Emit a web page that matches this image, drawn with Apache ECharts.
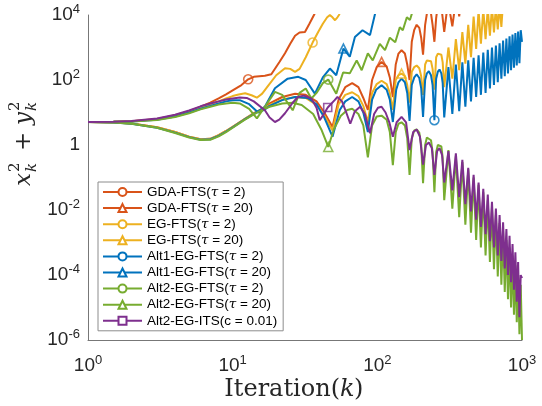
<!DOCTYPE html>
<html><head><meta charset="utf-8">
<script src="https://cdn.jsdelivr.net/npm/echarts@6/dist/echarts.min.js"></script>
<style>html,body{margin:0;padding:0;background:#fff}#c{width:542px;height:406px}</style>
</head><body><div id="c"></div>
<script>
// ---- data: [iteration k, x_k^2 + y_k^2] ----
const seriesNames = ['GDA-FTS(τ = 2)','GDA-FTS(τ = 20)','EG-FTS(τ = 2)','EG-FTS(τ = 20)','Alt1-EG-FTS(τ = 2)','Alt1-EG-FTS(τ = 20)','Alt2-EG-FTS(τ = 2)','Alt2-EG-FTS(τ = 20)','Alt2-EG-ITS(c = 0.01)'];

const gdaFts2 = [[1,5.1],[1.5,5.2],[2,5.4],[3,6.3],[4,8.3],[5,11],[6,15],[7,20],[8,27],[9,36],[10,48],[11.5,70],[12.8,105],[14,125],[16.7,135],[18.5,150],[21,350],[23,665],[25,1300],[27,2300],[29,2900],[31.6,3000],[34,5500],[37,11300],[40,20000]];

const gdaFts20 = [[1,5.1],[1.5,4.9],[2,4.6],[3,3.5],[4,2.5],[5,1.8],[6,1.5],[7,1.55],[8,2],[9,2.7],[10,3.6],[12,6.2],[14,9.5],[16,13],[18,19],[22,30],[27,38],[32,35],[38,22],[43,10],[49,3.6],[54,25],[60,60],[67,80],[74,60],[80,28],[86,12],[92,100],[99,250],[107,360],[116,260],[122,120],[128,30],[134,300],[140,650],[147,820],[155,650],[161,300],[167,100],[173,1500],[180,3500],[187,5000],[195,4000],[201,2000],[207,600],[214,5000],[220,11000],[227,14000],[235,11000],[241,5000],[248,1500],[255,8000],[262,20000],[270,30000],[280,12000],[290,3000],[300,10000],[310,30000],[320,10000],[330,4500],[340,12000],[350,30000],[360,20000],[368,9000],[380,30000]];

const egFts2 = [[1,5.1],[1.5,5.2],[2,5.4],[3,6.2],[4,8],[5,10.5],[6,14],[7,18],[8,22],[9,27],[10,32],[11,36],[12.2,39],[13.5,34],[14.7,28.5],[16,38],[17.3,60],[20,140],[23,230],[25,220],[27,177],[29,220],[32,500],[35.7,1420],[39,3000],[42,5400],[45,8500],[47,9900],[49,8500],[51,6900],[53,8500],[54.3,10000],[58,20000]];

const egFts20 = [[1,5.1],[1.5,4.9],[2,4.6],[3,3.5],[4,2.5],[5,1.8],[6,1.5],[7,1.55],[8,2],[9,2.7],[10,3.6],[12,6.1],[14,9.3],[16,12.5],[18,17],[22,25],[27,30],[32,28],[38,17],[43,8],[49,2.8],[54,18],[60,35],[67,42],[74,32],[80,16],[86,5],[92,40],[99,75],[107,95],[116,75],[122,40],[128,12],[134,100],[140,140],[147,158],[155,130],[161,70],[167,20],[173,180],[180,250],[187,280],[195,230],[201,130],[207,35],[214,300],[220,400],[227,450],[235,380],[241,220],[248,50],[255,500],[262,650],[269,700],[277,600],[283,350],[290,60],[310,1000],[330,110],[349,1800],[368,200],[387,3000],[406,320],[425,5000],[444,500],[463,9000],[482,900],[501,14000],[520,1300],[540,15000],[560,1800],[580,16000],[600,2300],[620,17000],[640,2900],[660,18000],[680,3600],[700,20000],[720,4300],[740,25000],[760,15000],[780,30000]];

const alt1Fts2 = [[1,5.1],[1.5,5.2],[2,5.3],[3,6],[4,7.5],[5,10],[6,13],[7,16],[8,19],[9,22],[10,24],[11.2,24],[13,18],[15,10],[16.5,12],[18,16],[22,24],[27,30],[33,28],[38,18],[43,7],[49,1.8],[55,12],[60,22],[67,30],[74,22],[80,10],[86,2.5],[92,25],[98,50],[107,69],[116,50],[122,25],[128,5.1],[135,50],[140,85],[147,110],[155,85],[161,40],[167,5.5],[173,70],[180,120],[187,150],[195,115],[201,55],[207,7.3],[214,100],[220,160],[227,185],[235,140],[241,70],[248,5.8],[255,110],[262,180],[269,210],[277,160],[283,80],[290,7.1],[310,250],[330,9],[349,300],[368,11],[387,350],[406,15],[425,400],[444,22],[463,480],[482,30],[501,580],[520,35],[540,700],[560,40],[580,850],[600,55],[620,1000],[640,70],[660,1150],[680,85],[700,1350],[720,110],[740,1650],[760,130],[780,1900],[800,160],[820,2200],[840,200],[860,2500],[880,240],[900,2800],[920,280],[940,3100],[960,330],[980,3400],[1000,1500]];

const alt1Fts20 = [[1,5.1],[1.5,4.9],[2,4.5],[3,3.4],[4,2.4],[5,1.75],[6,1.45],[7,1.5],[8,1.9],[9,2.6],[10,3.5],[12,6],[14,9],[16.7,15],[19.6,56],[24,110],[28.4,125],[32,100],[37,38],[42,120],[47,225],[52,140],[58.3,930],[64.5,520],[70,2100],[79,3400],[89,2400],[96,10000],[100,20000]];

const alt2Fts2 = [[1,5.1],[1.5,5.2],[2,5.3],[3,5.9],[4,7.3],[5,9.5],[6,12.5],[7,15],[8,17.5],[9,19],[10,20],[11.2,19],[13,13],[14.7,6.6],[16.7,15],[19.6,43],[22,35],[26,11.7],[29,40],[32,55],[35,27],[38,40],[42,80],[45.8,103],[52,38],[58,170],[64.5,160],[72,400],[78,200],[86,660],[93,400],[104,1300],[113,830],[122,2000],[133,1450],[143,4200],[150,3400],[160,8500],[168,7000],[177,15000]];

const alt2Fts20 = [[1,5.1],[1.5,4.9],[2,4.5],[3,3.4],[4,2.35],[5,1.7],[6,1.42],[7,1.45],[8,1.85],[9,2.5],[10,3.4],[12,5.8],[14,8.8],[16,12],[18,15],[22,19],[26,20],[30,17],[36,9],[41,3],[45.8,0.87],[50,3],[56,8],[62,12],[67,13],[74,9],[80,4],[86,0.42],[92,4],[99,7.5],[107,8],[116,6],[122,2.5],[128,0.24],[134,2.5],[140,4.5],[147,5],[155,4],[161,1.6],[167,0.12],[173,1.6],[180,2.8],[187,3],[195,2.4],[201,1],[207,0.067],[214,1],[220,1.7],[227,1.8],[235,1.4],[241,0.6],[248,0.035],[255,0.6],[262,1],[269,1.1],[277,0.9],[283,0.4],[290,0.02],[310,0.7],[330,0.011],[349,0.45],[368,0.006],[387,0.3],[406,0.0035],[425,0.18],[444,0.002],[463,0.1],[482,0.0012],[501,0.06],[520,0.0007],[540,0.035],[560,0.0004],[580,0.02],[600,0.00025],[620,0.012],[640,0.00015],[660,0.007],[680,0.00009],[700,0.004],[720,0.00005],[740,0.0022],[760,0.00003],[780,0.0012],[800,0.000018],[820,0.0007],[840,0.00001],[860,0.0004],[880,0.000006],[900,0.0002],[920,0.0000035],[940,0.0001],[960,0.0000015],[980,0.00005],[1000,0.000001]];

const alt2Its = [[1,5.1],[1.5,5.2],[2,5.5],[3,6.5],[4,8.5],[5,11.5],[6,15.5],[7,19],[8,22],[9,25],[10,27],[11.2,29],[12.5,28],[14,22],[16.7,11.7],[18,7],[19.6,5.1],[21,6],[23,9.5],[26,20],[28.2,30],[31,33],[35,27],[38,14],[40,5.8],[42,8],[45.4,14.2],[50.7,24],[53,30],[57,22],[61,10],[65,4.5],[70,11],[76,15],[82,9],[86,4],[89,2.3],[95,9],[101,14],[107,15],[114,10],[121,5],[128,1.8],[136,5],[147,7.3],[158,5],[167,0.7],[177,2.5],[187,3],[197,1.8],[207,0.25],[217,1],[227,1.2],[238,0.8],[248,0.12],[259,0.65],[269,0.8],[280,0.5],[290,0.07],[310,0.65],[330,0.04],[349,0.55],[368,0.025],[387,0.35],[406,0.015],[425,0.2],[444,0.009],[463,0.12],[482,0.005],[501,0.07],[520,0.003],[540,0.045],[560,0.0018],[580,0.03],[600,0.0011],[620,0.018],[640,0.0007],[660,0.011],[680,0.0004],[700,0.007],[720,0.00027],[740,0.0042],[760,0.00016],[780,0.0026],[800,0.0001],[820,0.0016],[840,0.00006],[860,0.0009],[880,0.000035],[900,0.0005],[920,0.000015],[940,0.00025],[960,0.000005],[980,0.0001],[1000,0.00008]];

// one marker per series, [k, value]
const markerPoints = [[12.8,105],[107,360],[35.7,1420],[147,158],[248,5.8],[58.3,930],[45.8,103],[45.8,0.87],[45.4,14.2]];
const xTickValues = [1,10,100,1000];
const yTickValues = [1e-6,1e-4,1e-2,1,1e2,1e4];

const allData = [gdaFts2,gdaFts20,egFts2,egFts20,alt1Fts2,alt1Fts20,alt2Fts2,alt2Fts20,alt2Its];
const colors = ['#D95319','#D95319','#EDB120','#EDB120','#0072BD','#0072BD','#77AC30','#77AC30','#7E2F8E'];
const symbols = ['circle','triangle','circle','triangle','circle','triangle','circle','triangle','rect'];

const series = [];
allData.forEach((d,i)=>{
  series.push({
    name: seriesNames[i], type:'line', data:d, showSymbol:false,
    symbol: 'empty'+symbols[i].charAt(0).toUpperCase()+symbols[i].slice(1),
    lineStyle:{color:colors[i], width:2}, itemStyle:{color:colors[i]},
    emphasis:{disabled:true}, clip:true, z: 2+i
  });
});
allData.forEach((d,i)=>{
  series.push({
    name:'marker'+i, type:'scatter', data:[markerPoints[i]], symbol:symbols[i], symbolSize: symbols[i]==='rect'?8:9,
    itemStyle:{color:'rgba(0,0,0,0)', borderColor:colors[i], borderWidth:1.6}, z: 20, emphasis:{disabled:true}
  });
});

function isTick(list, v){ return list.some(t => Math.abs(Math.log10(t) - Math.log10(v)) < 1e-6); }
const labelRich = {
  b:{fontSize:19, fontFamily:'Liberation Sans', color:'#262626', lineHeight:20},
  s:{fontSize:13, fontFamily:'Liberation Sans', color:'#262626', lineHeight:13, padding:[0,0,12,0]}
};

const chart = echarts.init(document.getElementById('c'), null, {renderer:'canvas'});
chart.setOption({
  animation:false,
  backgroundColor:'#fff',
  grid:{left:88, right:20, top:15, bottom:66, containLabel:false},
  xAxis:{type:'log', logBase:10, min:1, max:1000,
    axisLine:{show:true, lineStyle:{color:'#777', width:1}}, axisTick:{show:false}, splitLine:{show:false},
    axisLabel:{margin:16, fontFamily:'Liberation Sans', fontSize:19, color:'#262626',
      formatter:function(v){ if(!isTick(xTickValues, v)) return ''; const e=Math.round(Math.log10(v)); return '{b|10}{s|'+e+'}'; }, rich:labelRich}
  },
  yAxis:{type:'log', logBase:10, min:1e-6, max:1e4, interval:2,
    axisLine:{show:true, lineStyle:{color:'#777', width:1}}, axisTick:{show:false}, splitLine:{show:false},
    axisLabel:{margin:8, fontFamily:'Liberation Sans', fontSize:19, color:'#262626',
      formatter:function(v){ if(!isTick(yTickValues, v)) return ''; const e=Math.round(Math.log10(v)); if(e===0) return '{b|1}'; return '{b|10}{s|'+e+'}'; }, rich:labelRich}
  },
  legend:{
    data: seriesNames, orient:'vertical', left:98, top:182,
    itemWidth:39, itemHeight:10, itemGap:2.1,
    padding:[3,6,3,4],
    backgroundColor:'#fff', borderColor:'#8c8c8c', borderWidth:1,
    selectedMode:false,
    textStyle:{fontSize:13.5, fontFamily:'Liberation Sans', color:'#000', lineHeight:14,
      rich:{t:{fontSize:13.5, fontFamily:'DejaVu Serif', fontStyle:'italic', color:'#000'}}},
    formatter:function(n){return n.replace('τ','{t|τ}');}
  },
  graphic:[
    {type:'text', x:340, y:390, style:{text:'Iteration(', fill:'#262626', font:'24px "DejaVu Serif"', align:'right', verticalAlign:'middle'}},
    {type:'text', x:340, y:390, style:{text:'k', fill:'#262626', font:'italic 24px "DejaVu Serif"', align:'left', verticalAlign:'middle'}},
    {type:'text', x:354, y:390, style:{text:')', fill:'#262626', font:'24px "DejaVu Serif"', align:'left', verticalAlign:'middle'}},
    {type:'group', x:24, y:186, rotation:Math.PI/2, children:[
      {type:'text', x:0, y:0, style:{text:'x', fill:'#262626', font:'italic 23px "DejaVu Serif"', align:'left', verticalAlign:'middle'}},
      {type:'text', x:14, y:-9, style:{text:'2', fill:'#262626', font:'15px "DejaVu Serif"', align:'left', verticalAlign:'middle'}},
      {type:'text', x:14, y:8, style:{text:'k', fill:'#262626', font:'italic 15px "DejaVu Serif"', align:'left', verticalAlign:'middle'}},
      {type:'text', x:35, y:0, style:{text:'+', fill:'#262626', font:'23px "DejaVu Serif"', align:'left', verticalAlign:'middle'}},
      {type:'text', x:61, y:0, style:{text:'y', fill:'#262626', font:'italic 23px "DejaVu Serif"', align:'left', verticalAlign:'middle'}},
      {type:'text', x:75, y:-9, style:{text:'2', fill:'#262626', font:'15px "DejaVu Serif"', align:'left', verticalAlign:'middle'}},
      {type:'text', x:75, y:8, style:{text:'k', fill:'#262626', font:'italic 15px "DejaVu Serif"', align:'left', verticalAlign:'middle'}}
    ]}
  ],
  series: series
});
</script>
</body></html>
